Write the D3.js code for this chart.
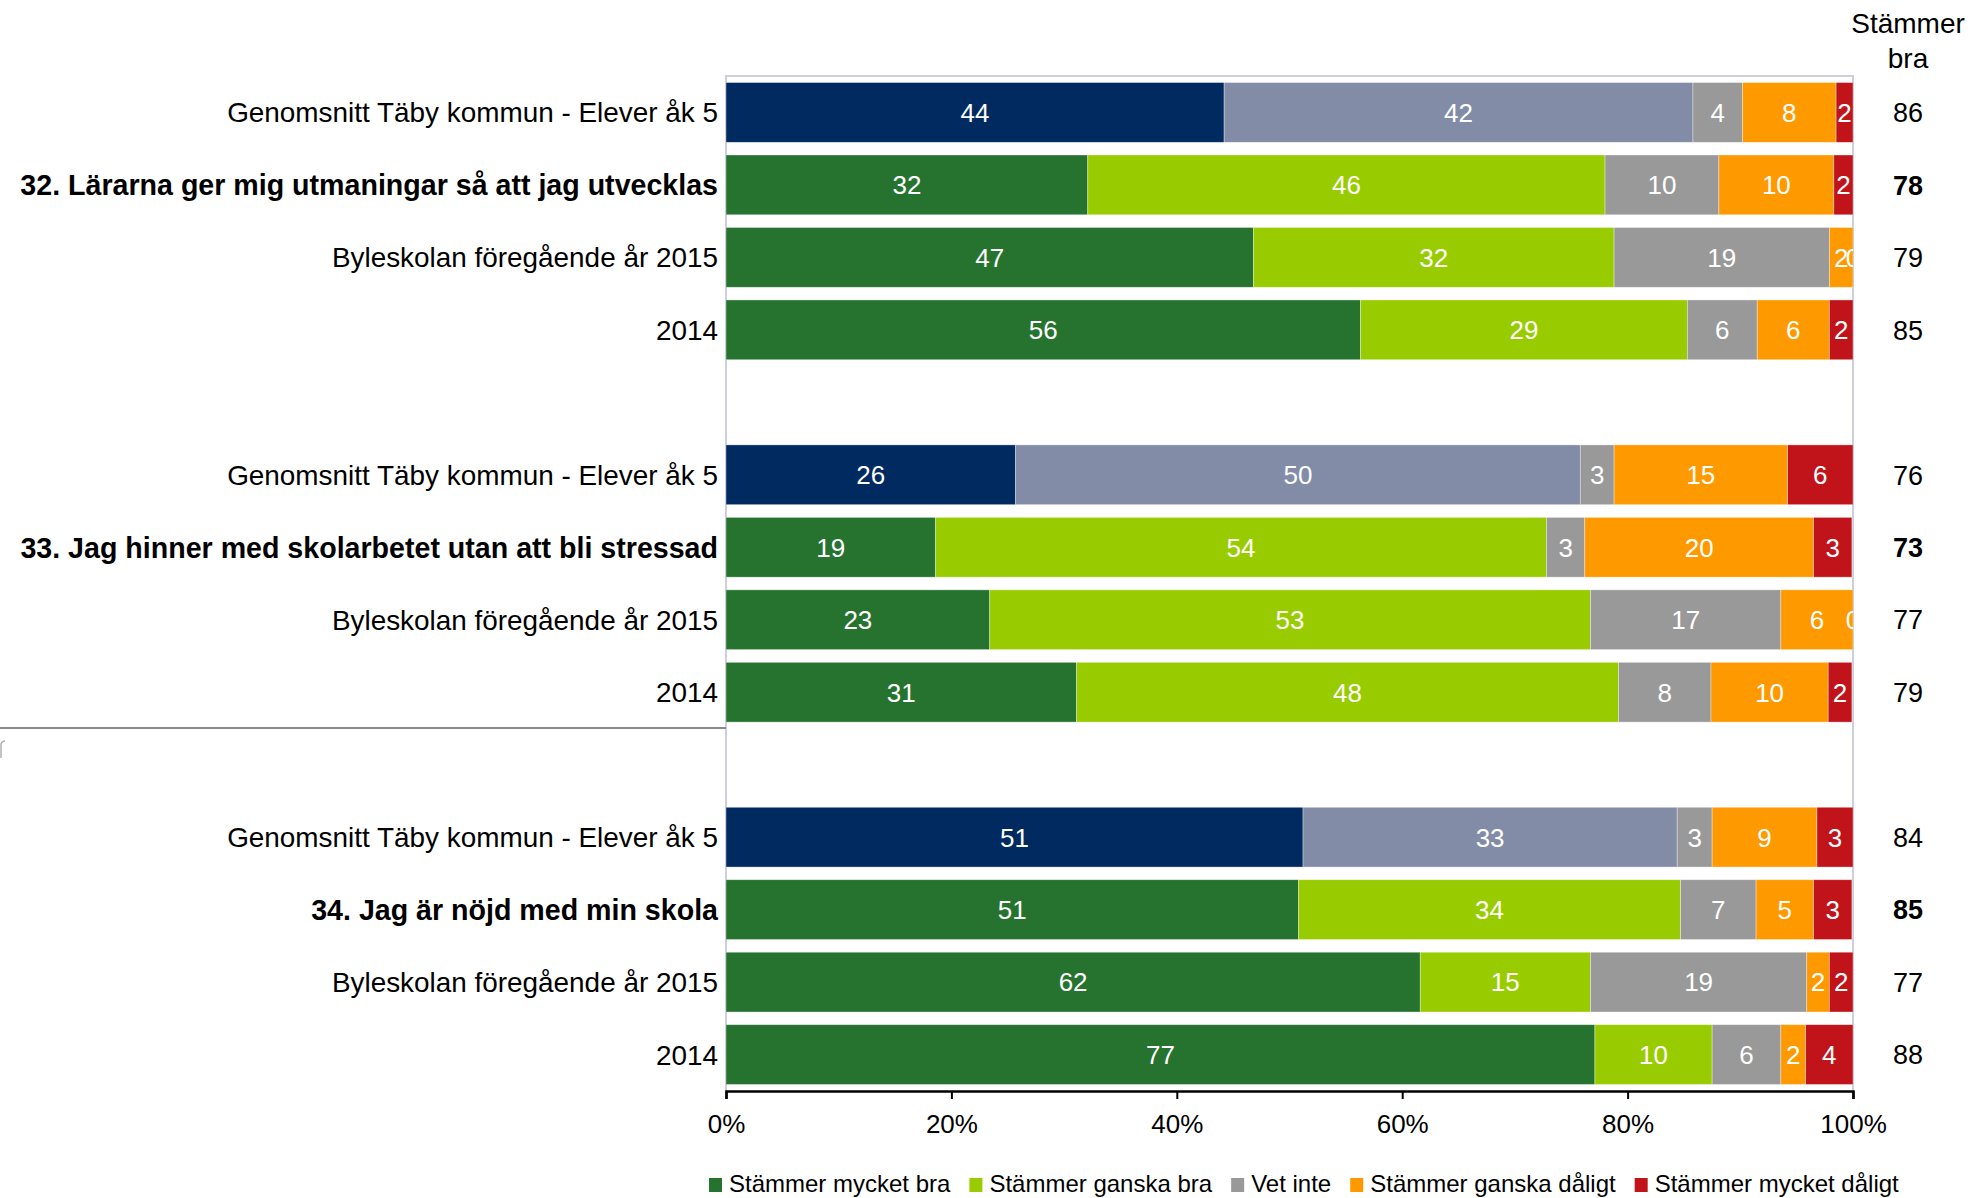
<!DOCTYPE html>
<html>
<head>
<meta charset="utf-8">
<script src="https://cdn.jsdelivr.net/npm/d3@7"></script>
<style>
  body { margin: 0; background: #fff; }
  svg { font-family: Arial, 'Liberation Sans', sans-serif; }
</style>
</head>
<body>
<div id="chart"></div>
<script>
/* Data */
const rowLabels = [
  'Genomsnitt Täby kommun - Elever åk 5',
  '32. Lärarna ger mig utmaningar så att jag utvecklas',
  'Byleskolan föregående år 2015',
  '2014',
  'Genomsnitt Täby kommun - Elever åk 5',
  '33. Jag hinner med skolarbetet utan att bli stressad',
  'Byleskolan föregående år 2015',
  '2014',
  'Genomsnitt Täby kommun - Elever åk 5',
  '34. Jag är nöjd med min skola',
  'Byleskolan föregående år 2015',
  '2014',
];
// band slot of each row (slots 4 and 9 are the gaps between questions)
const rowSlots = [0, 1, 2, 3, 5, 6, 7, 8, 10, 11, 12, 13];
const rowKind = ['avg', 'q', 'y', 'y', 'avg', 'q', 'y', 'y', 'avg', 'q', 'y', 'y'];

const series = [
  'Stämmer mycket bra',
  'Stämmer ganska bra',
  'Vet inte',
  'Stämmer ganska dåligt',
  'Stämmer mycket dåligt',
];
const mycketBra = [44.2, 32.1, 46.8, 56.3, 25.7, 18.6, 23.4, 31.1, 51.2, 50.8, 61.6, 77.1];
const ganskaBra = [41.6, 45.9, 32.0, 29.0, 50.1, 54.2, 53.3, 48.1, 33.2, 33.9, 15.1, 10.4];
const vetInte = [4.4, 10.1, 19.1, 6.2, 3.0, 3.4, 16.9, 8.2, 3.1, 6.7, 19.2, 6.1];
const ganskaDaligt = [8.3, 10.2, 2.1, 6.4, 15.4, 20.3, 6.4, 10.4, 9.3, 5.1, 2.0, 2.2];
const mycketDaligt = [1.5, 1.7, 0, 2.1, 5.8, 3.4, 0, 2.1, 3.2, 3.4, 2.1, 4.2];
const stammerBra = [86, 78, 79, 85, 76, 73, 77, 79, 84, 85, 77, 88];
const xTicks = [0, 20, 40, 60, 80, 100];

const colors = ['#267330', '#99cc00', '#999999', '#ff9900', '#c0141a'];
const avgColors = ['#002a60', '#828ca6', '#999999', '#ff9900', '#c0141a'];

/* Layout */
const width = 1973,
  height = 1198,
  plot = { left: 726, right: 1853, top: 76, bottom: 1091 };

const svg = d3
  .select('#chart')
  .append('svg')
  .attr('width', width)
  .attr('height', height);

const x = d3.scaleLinear().domain([0, 100]).range([plot.left, plot.right]);
const y = d3
  .scaleBand()
  .domain(d3.range(14))
  .range([plot.top, plot.bottom])
  .paddingInner(0.175)
  .paddingOuter(0.09);

const values = [mycketBra, ganskaBra, vetInte, ganskaDaligt, mycketDaligt];
const rows = rowLabels.map((label, i) => {
  let x0 = 0;
  const segs = values.map((arr, s) => {
    const seg = { s: s, x0: x0, x1: x0 + arr[i], v: arr[i] };
    x0 += arr[i];
    return seg;
  });
  return { label, slot: rowSlots[i], kind: rowKind[i], segs, total: stammerBra[i] };
});

svg
  .append('defs')
  .append('clipPath')
  .attr('id', 'plot-clip')
  .append('rect')
  .attr('x', plot.left)
  .attr('y', plot.top)
  .attr('width', plot.right - plot.left)
  .attr('height', plot.bottom - plot.top);

// frame
svg
  .append('path')
  .attr('d', `M${plot.left},${plot.bottom} V${plot.top} H${plot.right} V${plot.bottom}`)
  .attr('fill', 'none')
  .attr('stroke', '#cdd0dc')
  .attr('stroke-width', 2);

// stray line on the left (and the little mark under it)
svg
  .append('line')
  .attr('x1', 0)
  .attr('x2', plot.left)
  .attr('y1', 728)
  .attr('y2', 728)
  .attr('stroke', '#8a8a8a')
  .attr('stroke-width', 2);
svg
  .append('path')
  .attr('d', 'M1,758 V744 Q2,741 5,741')
  .attr('fill', 'none')
  .attr('stroke', '#b0b0b0')
  .attr('stroke-width', 1.5);

const rowG = svg
  .append('g')
  .attr('clip-path', 'url(#plot-clip)')
  .selectAll('g.row')
  .data(rows)
  .join('g')
  .attr('class', 'row')
  .attr('transform', (d) => `translate(0,${y(d.slot)})`);

rowG
  .selectAll('rect')
  .data((d) => d.segs.map((s) => ({ ...s, kind: d.kind })))
  .join('rect')
  .attr('x', (d) => x(d.x0))
  .attr('width', (d) => x(d.x1) - x(d.x0))
  .attr('height', y.bandwidth())
  .attr('fill', (d) => (d.kind === 'avg' ? avgColors[d.s] : colors[d.s]))
  .attr('stroke', 'rgba(255,255,255,0.5)')
  .attr('stroke-width', 0.7);

rowG
  .selectAll('text')
  .data((d) => d.segs)
  .join('text')
  .attr('x', (d) => x((d.x0 + d.x1) / 2))
  .attr('y', y.bandwidth() / 2)
  .attr('dy', '0.36em')
  .attr('text-anchor', 'middle')
  .attr('font-size', 26)
  .attr('fill', '#fff')
  .text((d) => Math.round(d.v));

// row labels
svg
  .append('g')
  .selectAll('text')
  .data(rows)
  .join('text')
  .attr('x', 718)
  .attr('y', (d) => y(d.slot) + y.bandwidth() / 2)
  .attr('dy', '0.36em')
  .attr('text-anchor', 'end')
  .attr('font-size', (d) => (d.kind === 'q' ? 28.6 : 27.9))
  .attr('font-weight', (d) => (d.kind === 'q' ? 'bold' : 'normal'))
  .attr('fill', '#000')
  .text((d) => d.label);

// Stämmer bra column
const colX = 1908;
svg
  .append('text')
  .attr('x', colX)
  .attr('y', 33)
  .attr('text-anchor', 'middle')
  .attr('font-size', 28)
  .text('Stämmer');
svg
  .append('text')
  .attr('x', colX)
  .attr('y', 68)
  .attr('text-anchor', 'middle')
  .attr('font-size', 28)
  .text('bra');

svg
  .append('g')
  .selectAll('text')
  .data(rows)
  .join('text')
  .attr('x', colX)
  .attr('y', (d) => y(d.slot) + y.bandwidth() / 2)
  .attr('dy', '0.36em')
  .attr('text-anchor', 'middle')
  .attr('font-size', 27)
  .attr('font-weight', (d) => (d.kind === 'q' ? 'bold' : 'normal'))
  .text((d) => d.total);

// x axis
const xAxis = svg
  .append('g')
  .attr('transform', `translate(0,${plot.bottom})`)
  .call(
    d3
      .axisBottom(x)
      .tickValues(xTicks)
      .tickSize(8)
      .tickPadding(16)
      .tickFormat((d) => d + '%')
  );
xAxis.select('.domain').attr('stroke', '#000').attr('stroke-width', 2.5);
xAxis.selectAll('.tick line').attr('stroke', '#000').attr('stroke-width', 2);
xAxis
  .selectAll('.tick text')
  .attr('font-size', 26)
  .attr('font-family', 'Arial, Liberation Sans, sans-serif')
  .attr('fill', '#000');

// legend
const legend = svg.append('g').attr('transform', 'translate(709,1178)');
let lx = 0;
series.forEach((name, i) => {
  const item = legend.append('g').attr('transform', `translate(${lx},0)`);
  item.append('rect').attr('width', 13).attr('height', 14).attr('fill', colors[i]);
  const t = item
    .append('text')
    .attr('x', 20)
    .attr('y', 14)
    .attr('font-size', 24)
    .attr('fill', '#000')
    .text(name);
  lx += 20 + t.node().getComputedTextLength() + 19;
});
</script>
</body>
</html>
